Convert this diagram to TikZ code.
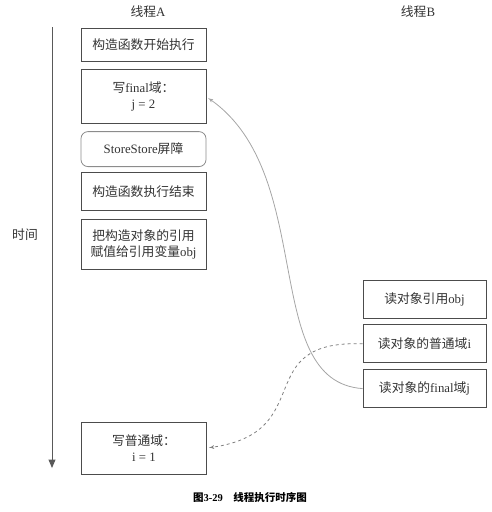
\documentclass[tikz,border=0pt]{standalone}
\usepackage{fontspec}
\setmainfont{Liberation Serif}
\newfontfamily\cjk{Noto Sans CJK SC}
\usetikzlibrary{arrows, positioning}

\begin{document}
\begin{tikzpicture}[x=1pt, y=-1pt, -latex', node distance=7pt, auto,
    every node/.style={font=\fontsize{12.8}{16}\selectfont, text=black!80},
    box/.style={draw=black!70, line width=0.8pt, rectangle, minimum width=125pt, inner sep=2pt, align=center},
    sbox/.style={box, rounded corners=7pt, draw=black!45},
    link/.style={draw=black!35, line width=0.8pt, shorten >=2pt},
    title/.style={font=\fontsize{12.8}{14}\selectfont}]
      \useasboundingbox (0,0) rectangle (492,512);

      % titles
      \node[title] (TA) at (148,12) {{\cjk 线程}A};
      \node[title] (TB) at (418,12) {{\cjk 线程}B};

      % time axis
      \coordinate (T0) at (52,27);
      \coordinate (T1) at (52,468);
      \draw[black!65, line width=0.9pt, -triangle 45] (T0) -- (T1);
      \node (TIME) at (25,235) {\cjk 时间};

      % thread A
      \node[box, minimum height=33pt] (CS) at (143.5,44.5) {\cjk 构造函数开始执行};
      \node[box, minimum height=54pt, below=8pt of CS] (WF) {{\cjk 写}final{\cjk 域：}\\ j = 2};
      \node[sbox, minimum height=35pt, below=7pt of WF] (SS) {StoreStore{\cjk 屏障}};
      \node[box, minimum height=38pt, below=5pt of SS] (CE) {\cjk 构造函数执行结束};
      \node[box, minimum height=50pt, below=8pt of CE] (AR) {{\cjk 把构造对象的引用}\\ {\cjk 赋值给引用变量}obj};
      \node[box, minimum height=52pt] (WN) at (144,448) {{\cjk 写普通域：}\\ i = 1};

      % thread B
      \node[box, minimum width=123pt, minimum height=38pt] (RR) at (424.5,299) {{\cjk 读对象引用}obj};
      \node[box, minimum width=123pt, minimum height=38pt, below=6pt of RR] (RN) {{\cjk 读对象的普通域}i};
      \node[box, minimum width=123pt, minimum height=38pt, below=6pt of RN] (RF) {{\cjk 读对象的}final{\cjk 域}j};

        \path (RF.west) edge[link, out=176, in=-35, out looseness=0.8, in looseness=1.05] (WF.east)
              (RN.west) edge[link, draw=black!50, dashed, out=178, in=8, looseness=1.55] (WN.east)
              ;

      % caption
      \node[font=\fontsize{10.5}{12}\selectfont, text=black] (CAP) at (250,497)
        {{\cjk\bfseries 图}\textbf{3-29}\quad{\cjk\bfseries 线程执行时序图}};
        \end{tikzpicture}
\end{document}
